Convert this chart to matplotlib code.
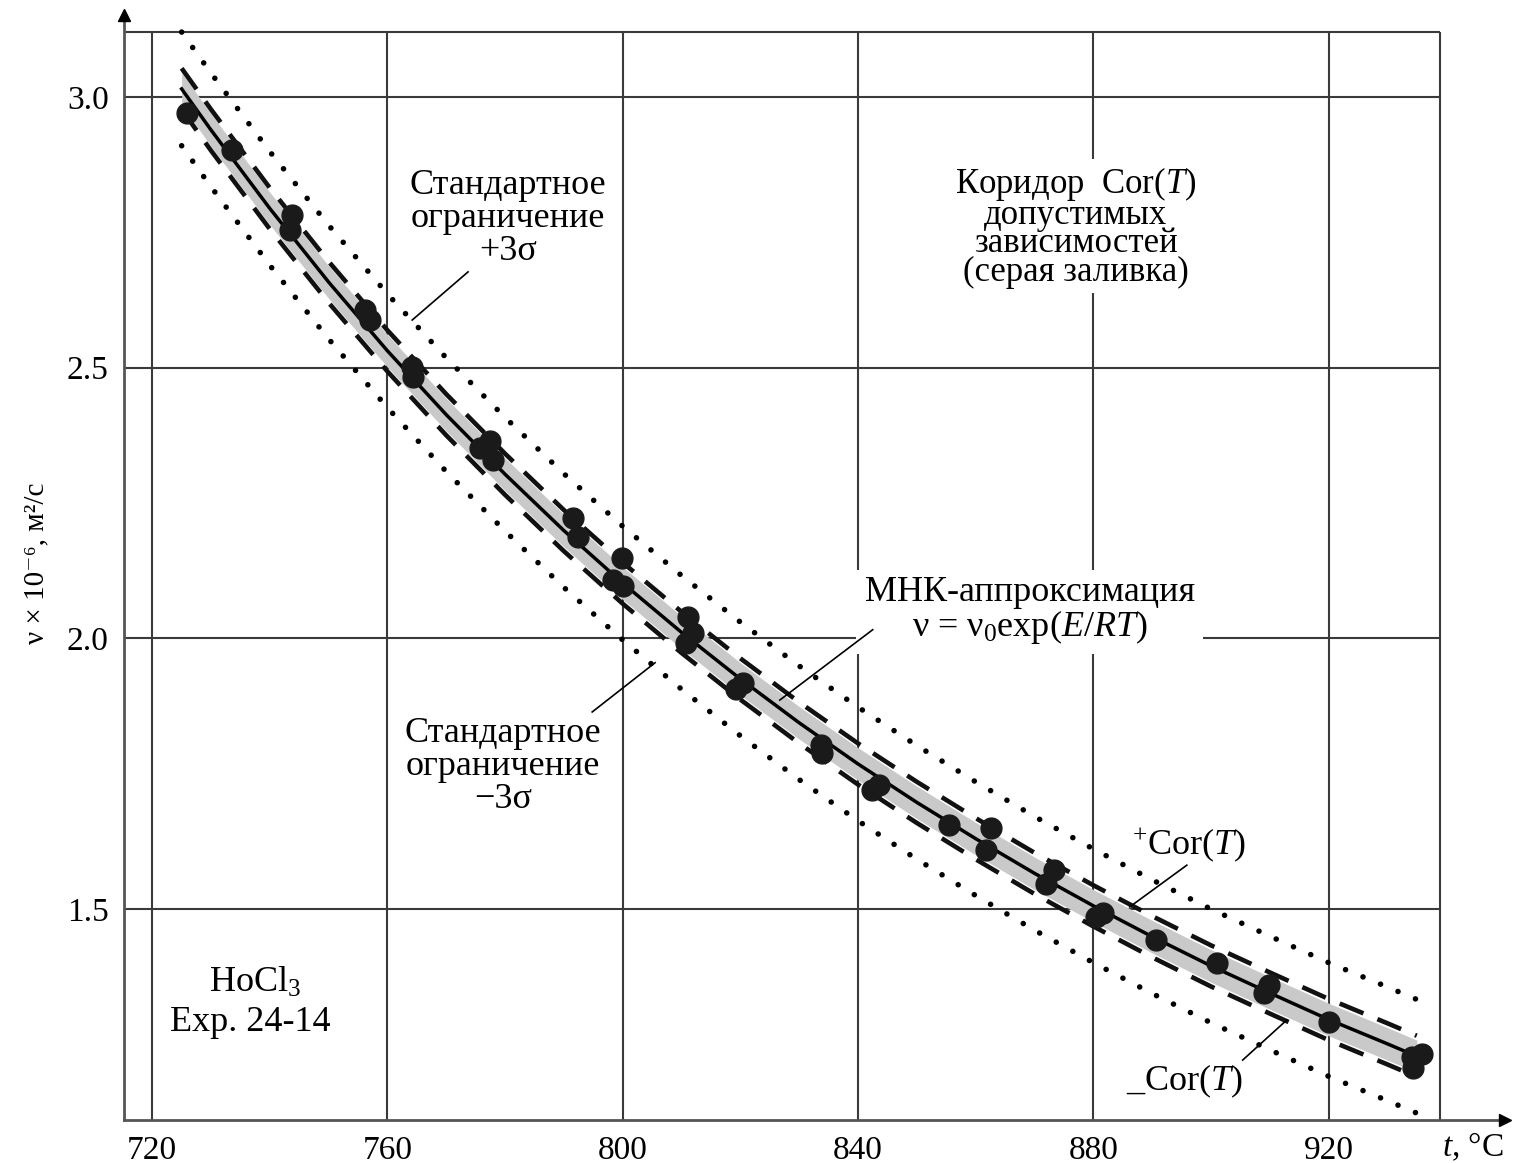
import matplotlib
matplotlib.use("Agg")
import matplotlib.pyplot as plt
import numpy as np

plt.rcParams['font.family'] = ['Liberation Serif', 'DejaVu Serif']
plt.rcParams['mathtext.fontset'] = 'custom'
plt.rcParams['mathtext.rm'] = 'Liberation Serif'
plt.rcParams['mathtext.it'] = 'Liberation Serif:italic'
plt.rcParams['mathtext.bf'] = 'Liberation Serif:bold'

# ---- data ----
# experimental points (t, °C ; nu x 1e-6 m2/s)
exp_t = [725.9, 733.5, 743.7, 743.4, 756.2, 757.0, 764.1, 764.3,
         775.7, 777.4, 777.9, 791.5, 792.4, 799.8, 798.3, 800.0,
         811.1, 811.9, 810.8, 820.4, 819.3, 833.7, 833.9, 843.6, 842.4,
         855.5, 862.6, 861.7, 873.3, 871.9, 881.6, 880.4, 890.6,
         901.1, 909.0, 909.8, 920.0, 934.2, 935.9, 934.4]
exp_v = [2.970, 2.902, 2.782, 2.754, 2.607, 2.588, 2.501, 2.483,
         2.352, 2.364, 2.330, 2.222, 2.188, 2.148, 2.108, 2.096,
         2.040, 2.009, 1.991, 1.918, 1.906, 1.803, 1.788, 1.729, 1.720,
         1.655, 1.649, 1.609, 1.572, 1.547, 1.492, 1.486, 1.443,
         1.400, 1.344, 1.360, 1.292, 1.226, 1.232, 1.207]

# least-squares fit curve
fit_t = [725, 730, 740, 750, 760, 770, 780, 790, 800, 810, 820, 830,
         840, 850, 860, 870, 880, 890, 900, 910, 920, 930, 935]
fit_v = [3.015, 2.939, 2.794, 2.658, 2.531, 2.413, 2.303, 2.199, 2.102,
         2.011, 1.925, 1.844, 1.768, 1.697, 1.630, 1.566, 1.506, 1.449,
         1.395, 1.345, 1.296, 1.251, 1.228]

cor_half = 0.038     # +/- Cor(T) (dashed)
fill_half = 0.030    # grey corridor
sigma3 = 0.105       # +/- 3 sigma (dotted)

x_ticks = [720, 760, 800, 840, 880, 920]
y_ticks = [1.5, 2.0, 2.5, 3.0]
x_grid = [720, 760, 800, 840, 880, 920, 939]
y_grid = [1.5, 2.0, 2.5, 3.0, 3.12]

fit_t = np.array(fit_t)
fit_v = np.array(fit_v)

fig = plt.figure(figsize=(15.16, 11.63), dpi=100)
ax = fig.add_axes([124/1516, 1-1120/1163, (1505-124)/1516, (1120-15)/1163])
xmin, xmax = 715.2, 950.0
ymin, ymax = 1.1103, 3.1515
ax.set_xlim(xmin, xmax)
ax.set_ylim(ymin, ymax)

gc = '#3a3a3a'
ax.vlines(x_grid, ymin, 3.12, colors=gc, lw=1.5, zorder=1)
ax.hlines(y_grid, xmin, 939, colors=gc, lw=1.5, zorder=1)

# grey corridor
ax.fill_between(fit_t, fit_v - fill_half, fit_v + fill_half,
                color='#c9c9c9', lw=0, zorder=2)
# dotted +/- 3 sigma
for s in (1, -1):
    ax.plot(fit_t, fit_v + s*sigma3, color='black', lw=4.0,
            linestyle=(0, (0.01, 3.4)), dash_capstyle='round', zorder=3)
# dashed +/- Cor
for s in (1, -1):
    ax.plot(fit_t, fit_v + s*cor_half, color='#111111', lw=3.3,
            linestyle=(0, (5.6, 3.3)), dash_capstyle='butt', zorder=3)
# fit
ax.plot(fit_t, fit_v, color='black', lw=2.5, zorder=4)
# points
ax.plot(exp_t, exp_v, 'o', color='#1a1a1a', ms=15, mec='#1a1a1a', zorder=5)

for sp in ('top', 'right'):
    ax.spines[sp].set_visible(False)
for sp in ('left', 'bottom'):
    ax.spines[sp].set_color('#555555')
    ax.spines[sp].set_linewidth(2)
ax.plot([xmin], [ymax], marker='^', color='black', ms=9, clip_on=False, zorder=6)
ax.plot([xmax], [ymin], marker='>', color='black', ms=9, clip_on=False, zorder=6)

ax.set_xticks(x_ticks)
ax.set_xticklabels([str(v) for v in x_ticks])
ax.set_yticks(y_ticks)
ax.set_yticklabels([f"{v:.1f}" for v in y_ticks])
ax.tick_params(length=0, labelsize=24, pad=11)

ax.text(944.5, 1.060, "$t$, °C", fontsize=24, ha='center', va='center', clip_on=False)
fig.text(36/1516, 1-563/1163, "ν × 10⁻⁶, м²/с", rotation=90, fontsize=21,
         ha='center', va='center', family=['Liberation Serif', 'DejaVu Serif'])

fs = 26
wb = dict(facecolor='white', edgecolor='none', pad=3)
ax.text(780.5, 2.776, "Стандартное\nограничение\n+3σ", fontsize=fs, ha='center',
        va='center', linespacing=1.0, bbox=wb, zorder=7)
ax.plot([773.7, 764.2], [2.677, 2.588], color='black', lw=1.2, zorder=7)

ax.text(779.6, 1.764, "Стандартное\nограничение\n−3σ", fontsize=fs, ha='center',
        va='center', linespacing=1.0, bbox=wb, zorder=7)
ax.plot([794.8, 805.5], [1.864, 1.955], color='black', lw=1.2, zorder=7)

ax.text(877.0, 2.760, "Коридор  Cor($T$)\nдопустимых\nзависимостей\n(серая заливка)",
        fontsize=25, ha='center', va='center', linespacing=0.83, bbox=wb, zorder=7)

ax.text(869.2, 2.050, "МНК-аппроксимация\nν = ν$_0$exp($E/RT$)", fontsize=fs,
        ha='center', va='center', linespacing=0.95,
        bbox=dict(facecolor='white', edgecolor='none', pad=6), zorder=7)
ax.plot([842.5, 826.7], [2.016, 1.886], color='black', lw=1.2, zorder=7)

ax.text(886.5, 1.618, "$^{+}$Cor($T$)", fontsize=fs, ha='left', va='center', zorder=7)
ax.plot([895.9, 886.2], [1.581, 1.504], color='black', lw=1.2, zorder=7)

ax.text(885.5, 1.181, "_Cor($T$)", fontsize=fs, ha='left', va='center', zorder=7)
ax.plot([905.4, 912.9], [1.221, 1.295], color='black', lw=1.2, zorder=7)

ax.text(737.5, 1.363, "HoCl$_3$", fontsize=fs, ha='center', va='center', zorder=7)
ax.text(736.7, 1.291, "Exp. 24-14", fontsize=fs, ha='center', va='center', zorder=7)

fig.savefig("out.png", dpi=100, facecolor='white')
